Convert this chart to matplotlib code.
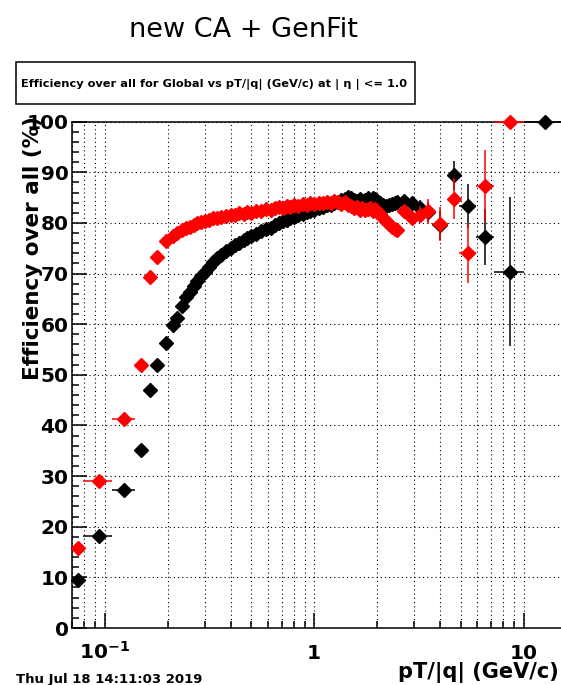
import matplotlib
matplotlib.use("Agg")
import matplotlib.pyplot as plt
import numpy as np
from matplotlib.patches import Rectangle
from matplotlib.ticker import FixedLocator, MultipleLocator, NullFormatter

plt.rcParams["font.family"] = "DejaVu Sans"
plt.rcParams["mathtext.default"] = "bf"

# ---- data: efficiency (%) vs pT/|q| (GeV/c) ----
# sparse low-pT bins: centre and half width
pt_low = [0.0745, 0.0935, 0.1235, 0.1485, 0.164, 0.1785, 0.196]
pt_low_hw = [0.0045, 0.0145, 0.0155, 0.0095, 0.006, 0.0085, 0.009]
eff_low_black = [9.5, 18.1, 27.2, 35.1, 47.1, 51.9, 56.3]
eff_low_red = [15.8, 29.1, 41.3, 51.9, 69.3, 73.2, 76.5]

# dense bins
pt_mid = [0.211, 0.222, 0.233, 0.244, 0.255, 0.266, 0.277, 0.288, 0.30, 0.315,
          0.33, 0.345, 0.36, 0.38, 0.40, 0.42, 0.44, 0.46, 0.48, 0.50,
          0.53, 0.56, 0.59, 0.62, 0.65, 0.68, 0.71, 0.74, 0.77, 0.80,
          0.84, 0.88, 0.92, 0.96, 1.00, 1.05, 1.10, 1.15, 1.20, 1.25,
          1.30, 1.35, 1.40, 1.45, 1.50, 1.55, 1.60, 1.65, 1.70, 1.75,
          1.80, 1.85, 1.90, 1.95, 2.00, 2.07, 2.14, 2.21, 2.28, 2.35,
          2.42, 2.50]
eff_mid_black = [59.8, 61.3, 63.5, 65.4, 66.4, 67.6, 68.6, 69.5, 70.4, 71.3,
                 72.3, 73.0, 73.7, 74.5, 75.1, 75.7, 76.1, 76.6, 77.0, 77.4,
                 77.9, 78.4, 78.8, 79.1, 79.6, 79.9, 80.3, 80.5, 80.9, 81.1,
                 81.5, 81.7, 82.1, 82.3, 82.6, 83.0, 83.2, 83.5, 83.6, 84.0,
                 84.1, 84.5, 84.7, 85.1, 85.0, 84.6, 84.4, 84.7, 84.3, 84.5,
                 84.9, 84.6, 85.0, 84.7, 84.4, 84.0, 83.5, 83.3, 83.6, 83.8,
                 84.0, 84.2]
eff_mid_red = [77.4, 78.0, 78.6, 79.0, 79.3, 79.5, 79.9, 80.1, 80.3, 80.6,
               80.9, 81.0, 81.2, 81.4, 81.5, 81.6, 81.9, 81.8, 82.1, 82.0,
               82.3, 82.4, 82.7, 82.6, 82.9, 83.1, 83.0, 83.3, 83.2, 83.5,
               83.4, 83.7, 83.6, 83.9, 83.8, 84.0, 83.9, 84.2, 84.0, 84.3,
               84.1, 83.8, 84.2, 83.6, 83.3, 82.9, 83.1, 82.6, 82.9, 82.5,
               82.8, 83.0, 82.4, 82.7, 82.2, 81.8, 81.0, 80.3, 79.8, 79.3,
               78.9, 78.6]

# sparse high-pT bins
pt_high = [2.7, 2.92, 3.2, 3.5, 4.0, 4.63, 5.42, 6.56, 8.6, 12.6]
pt_high_hw = [0.1, 0.12, 0.15, 0.16, 0.34, 0.29, 0.5, 0.64, 1.4, 2.6]
eff_high_black = [84.4, 84.0, 83.0, 82.2, 79.5, 89.4, 83.4, 77.2, 70.4, 100.0]
err_high_black = [0.9, 1.1, 1.5, 2.0, 2.8, 2.8, 4.3, 5.6, 14.7, 0.0]
eff_high_red = [82.4, 81.0, 81.6, 82.3, 79.8, 84.8, 74.0, 87.3, 100.0, np.nan]
err_high_red = [1.0, 1.3, 1.7, 2.5, 3.3, 4.1, 5.8, 7.1, 0.0, np.nan]

W, H = 561, 685
fig = plt.figure(figsize=(W / 100, H / 100), dpi=100)
ax = fig.add_axes([72 / W, (H - 628) / H, 492 / W, 506.3 / H])
ax.set_xscale("log")
ax.set_xlim(0.0698, 15.6)
ax.set_ylim(0, 100)

mk = dict(marker="D", ms=7.0, linestyle="none", clip_on=False)
for color, eff_low, eff_mid, eff_high, err_high, z in [
    ("black", eff_low_black, eff_mid_black, eff_high_black, err_high_black, 3),
    ("red", eff_low_red, eff_mid_red, eff_high_red, err_high_red, 4),
]:
    ax.errorbar(pt_low, eff_low, xerr=pt_low_hw, color=color, elinewidth=1.1,
                capsize=0, zorder=z, **mk)
    ax.plot(pt_mid, eff_mid, color=color, zorder=z, **mk)
    ax.errorbar(pt_high, eff_high, xerr=pt_high_hw, yerr=err_high, color=color,
                elinewidth=1.1, capsize=0, zorder=z, **mk)

# axes style
for side in ["left", "bottom", "top"]:
    ax.spines[side].set_linewidth(1.1)
ax.spines["right"].set_visible(False)

ax.yaxis.set_major_locator(MultipleLocator(10))
ax.yaxis.set_minor_locator(MultipleLocator(2))
ax.set_yticks(range(0, 101, 10))
ax.set_yticklabels([str(v) for v in range(0, 101, 10)], fontsize=14.5, fontweight="bold")

ax.xaxis.set_major_locator(FixedLocator([0.1, 1, 10]))
minor = [m * 10.0 ** e for e in (-2, -1, 0, 1) for m in range(2, 10)]
ax.xaxis.set_minor_locator(FixedLocator(minor))
ax.xaxis.set_minor_formatter(NullFormatter())
ax.set_xticks([0.1, 1, 10])
ax.set_xticklabels([r"$10^{-1}$", "1", "10"], fontsize=14.5, fontweight="bold")
for lab in ax.get_xticklabels():
    lab.set_va("baseline")

ax.tick_params(which="major", direction="in", length=10.8, width=1.1)
ax.tick_params(which="minor", direction="in", length=5.2, width=1.1)
ax.tick_params(axis="y", which="major", pad=2.5)
ax.tick_params(axis="x", which="major", pad=22)
ax.tick_params(top=False, right=False, which="both")

grid_kw = dict(color="black", linewidth=0.8, linestyle=(0, (1, 2.8)))
ax.grid(which="major", axis="both", **grid_kw)
ax.grid(which="minor", axis="x", **grid_kw)
ax.set_axisbelow(True)

# texts
fig.text(243 / W, 1 - 37 / H, "new CA + GenFit", fontsize=19.5, ha="center", va="baseline")
fig.patches.append(Rectangle((16 / W, 1 - 104 / H), 399 / W, 42.3 / H, transform=fig.transFigure,
                             facecolor="white", edgecolor="black", linewidth=1.1))
fig.text(214 / W, 1 - 84 / H, "Efficiency over all for Global vs pT/|q| (GeV/c) at | \u03b7 | <= 1.0",
         fontsize=8.2, fontweight="bold", ha="center", va="center")
fig.text(33 / W, 1 - 116 / H, "Efficiency over all (%)", fontsize=15.5, fontweight="bold",
         rotation=90, ha="center", va="top")
fig.text(559 / W, 1 - 678 / H, "pT/|q| (GeV/c)", fontsize=15, fontweight="bold",
         ha="right", va="baseline")
fig.text(16 / W, 1 - 683 / H, "Thu Jul 18 14:11:03 2019", fontsize=9.5, fontweight="bold",
         ha="left", va="baseline")

fig.savefig("out.png", dpi=100)
